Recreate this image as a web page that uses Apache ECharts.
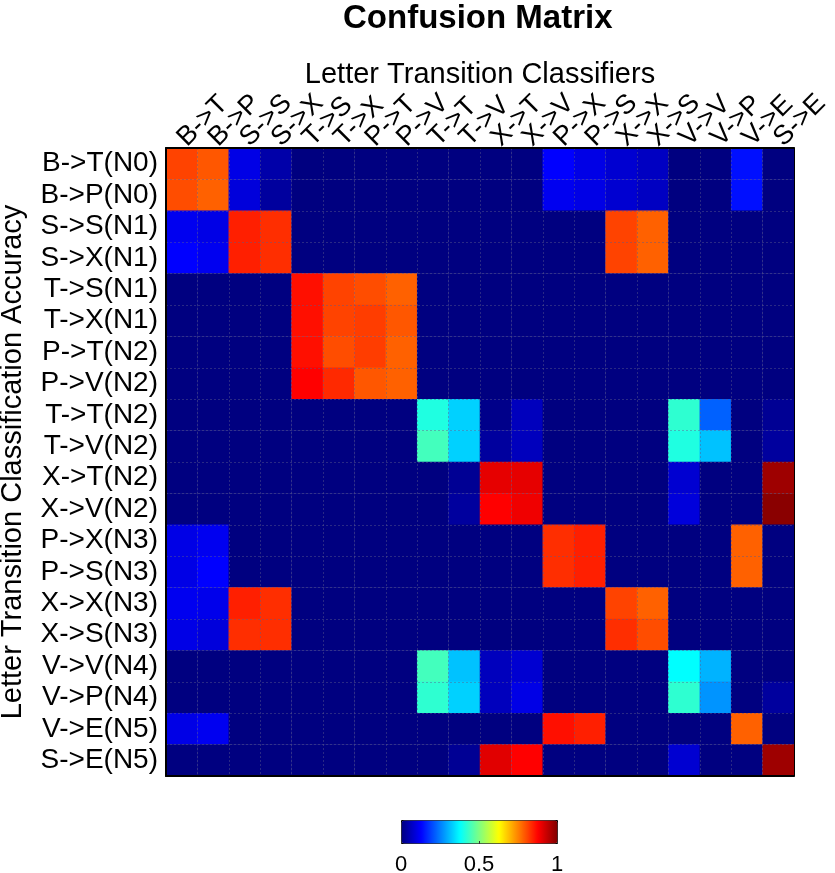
<!DOCTYPE html>
<html>
<head>
<meta charset="utf-8">
<script src="https://cdn.jsdelivr.net/npm/echarts@6/dist/echarts.min.js"></script>
<style>
  html, body { margin: 0; padding: 0; background: #fff; }
  #main { width: 835px; height: 873px; }
</style>
</head>
<body>
<div id="main"></div>
<script>
// classifiers (columns) and targets (rows)
var classifiers = ['B->T', 'B->P', 'S->S', 'S->X', 'T->S', 'T->X', 'P->T', 'P->V', 'T->T', 'T->V',
  'X->T', 'X->V', 'P->X', 'P->S', 'X->X', 'X->S', 'V->V', 'V->P', 'V->E', 'S->E'];
var targets = ['B->T(N0)', 'B->P(N0)', 'S->S(N1)', 'S->X(N1)', 'T->S(N1)', 'T->X(N1)', 'P->T(N2)', 'P->V(N2)',
  'T->T(N2)', 'T->V(N2)', 'X->T(N2)', 'X->V(N2)', 'P->X(N3)', 'P->S(N3)', 'X->X(N3)', 'X->S(N3)',
  'V->V(N4)', 'V->P(N4)', 'V->E(N5)', 'S->E(N5)'];

// one row per target, one value per classifier
var accuracy = [
  [0.81, 0.79, 0.10, 0.04, 0, 0, 0, 0, 0, 0, 0, 0, 0.125, 0.10, 0.08, 0.065, 0, 0, 0.14, 0],
  [0.80, 0.78, 0.09, 0.03, 0, 0, 0, 0, 0, 0, 0, 0, 0.11, 0.10, 0.08, 0.065, 0, 0, 0.14, 0],
  [0.11, 0.10, 0.845, 0.83, 0, 0, 0, 0, 0, 0, 0, 0, 0, 0, 0.81, 0.78, 0, 0, 0, 0],
  [0.125, 0.11, 0.845, 0.83, 0, 0, 0, 0, 0, 0, 0, 0, 0, 0, 0.81, 0.78, 0, 0, 0, 0],
  [0, 0, 0, 0, 0.86, 0.81, 0.80, 0.78, 0, 0, 0, 0, 0, 0, 0, 0, 0, 0, 0, 0],
  [0, 0, 0, 0, 0.86, 0.81, 0.815, 0.79, 0, 0, 0, 0, 0, 0, 0, 0, 0, 0, 0, 0],
  [0, 0, 0, 0, 0.86, 0.80, 0.815, 0.78, 0, 0, 0, 0, 0, 0, 0, 0, 0, 0, 0, 0],
  [0, 0, 0, 0, 0.875, 0.835, 0.79, 0.78, 0, 0, 0, 0, 0, 0, 0, 0, 0, 0, 0, 0],
  [0, 0, 0, 0, 0, 0, 0, 0, 0.405, 0.33, 0.01, 0.06, 0, 0, 0, 0, 0.42, 0.22, 0, 0.02],
  [0, 0, 0, 0, 0, 0, 0, 0, 0.44, 0.33, 0.03, 0.06, 0, 0, 0, 0, 0.405, 0.315, 0, 0.03],
  [0, 0, 0, 0, 0, 0, 0, 0, 0, 0.02, 0.90, 0.90, 0, 0, 0, 0, 0.08, 0, 0, 0.97],
  [0, 0, 0, 0, 0, 0, 0, 0, 0, 0.03, 0.875, 0.89, 0, 0, 0, 0, 0.09, 0, 0, 0.99],
  [0.10, 0.11, 0, 0, 0, 0, 0, 0, 0, 0, 0, 0, 0.83, 0.845, 0, 0, 0, 0, 0.78, 0],
  [0.10, 0.125, 0, 0, 0, 0, 0, 0, 0, 0, 0, 0, 0.83, 0.845, 0, 0, 0, 0, 0.78, 0],
  [0.11, 0.105, 0.845, 0.83, 0, 0, 0, 0, 0, 0, 0, 0, 0, 0, 0.81, 0.78, 0, 0, 0, 0],
  [0.10, 0.09, 0.83, 0.83, 0, 0, 0, 0, 0, 0, 0, 0, 0, 0, 0.83, 0.80, 0, 0, 0, 0],
  [0, 0, 0, 0, 0, 0, 0, 0, 0.44, 0.315, 0.06, 0.08, 0, 0, 0, 0, 0.375, 0.30, 0, 0],
  [0, 0, 0, 0, 0, 0, 0, 0, 0.42, 0.33, 0.06, 0.10, 0, 0, 0, 0, 0.42, 0.27, 0, 0.03],
  [0.10, 0.11, 0, 0, 0, 0, 0, 0, 0, 0, 0, 0, 0.86, 0.845, 0, 0, 0, 0, 0.78, 0],
  [0, 0, 0, 0, 0, 0, 0, 0, 0, 0.02, 0.905, 0.875, 0, 0, 0, 0, 0.08, 0, 0, 0.97]
];

// jet colormap, stops every 0.125
var jet = ['#000080', '#0000FF', '#0080FF', '#00FFFF', '#80FF80', '#FFFF00', '#FF8000', '#FF0000', '#800000'];

var cells = [];
for (var r = 0; r < accuracy.length; r++) {
  for (var c = 0; c < accuracy[r].length; c++) {
    cells.push([c, r, accuracy[r][c]]);
  }
}

var font = 'Liberation Sans';
var dom = document.getElementById('main');
var myChart = echarts.init(dom, null, { renderer: 'canvas' });

var gridLine = { show: true, lineStyle: { color: 'rgba(90,90,140,0.45)', type: [2, 2], width: 1 } };

var option = {
  animation: false,
  textStyle: { fontFamily: font, color: '#000' },
  title: {
    text: 'Confusion Matrix',
    left: 338,
    top: -3,
    textStyle: { fontFamily: font, fontSize: 33, fontWeight: 'bold', color: '#000' }
  },
  grid: [
    { left: 166, top: 148, width: 628, height: 628, outerBoundsMode: 'none' },
    { left: 401, top: 843, width: 156, height: 1, outerBoundsMode: 'none' }
  ],
  xAxis: [
    {
      type: 'category', data: classifiers, position: 'top', z: 3,
      name: 'Letter Transition Classifiers', nameLocation: 'middle', nameGap: 59, nameMoveOverlap: false,
      nameTextStyle: { fontFamily: font, fontSize: 29, color: '#000' },
      axisLine: { show: true, lineStyle: { color: '#000', width: 2 } },
      axisTick: { show: false },
      axisLabel: { rotate: -45, fontSize: 27, margin: 6, color: '#000', fontFamily: font, interval: 0 },
      splitLine: gridLine
    },
    {
      type: 'category', data: classifiers, position: 'bottom', z: 3,
      axisLine: { show: true, lineStyle: { color: '#000', width: 2 } },
      axisTick: { show: false }, axisLabel: { show: false }
    },
    {
      type: 'value', gridIndex: 1, min: 0, max: 1, interval: 0.5, z: 5,
      axisLine: { show: false }, splitLine: { show: false },
      axisTick: { show: true, inside: true, length: 3, lineStyle: { color: '#333' } },
      axisLabel: { fontSize: 22, margin: 10, color: '#000', fontFamily: font }
    }
  ],
  yAxis: [
    {
      type: 'category', data: targets, inverse: true, z: 3,
      name: 'Letter Transition Classification Accuracy', nameLocation: 'middle', nameGap: 139, nameRotate: 90,
      nameMoveOverlap: false,
      nameTextStyle: { fontFamily: font, fontSize: 29, color: '#000' },
      axisLine: { show: true, lineStyle: { color: '#000', width: 2 } },
      axisTick: { show: false },
      axisLabel: { fontSize: 28, margin: 8, color: '#000', fontFamily: font, interval: 0 },
      splitLine: gridLine
    },
    {
      type: 'category', data: targets, inverse: true, position: 'right', z: 3,
      axisLine: { show: true, lineStyle: { color: '#000', width: 1 } },
      axisTick: { show: false }, axisLabel: { show: false }
    },
    {
      type: 'value', gridIndex: 1, show: false
    }
  ],
  visualMap: {
    type: 'continuous',
    seriesIndex: 0,
    min: 0,
    max: 1,
    calculable: false,
    orient: 'horizontal',
    left: 401,
    top: 820,
    itemWidth: 23,
    itemHeight: 156,
    padding: 0,
    borderColor: '#000',
    borderWidth: 1,
    text: null,
    inRange: { color: jet }
  },
  series: [
    {
      type: 'heatmap',
      xAxisIndex: 0,
      yAxisIndex: 0,
      data: cells,
      itemStyle: { borderWidth: 0 },
      emphasis: { disabled: true }
    }
  ]
};

if (option && typeof option === 'object') {
  myChart.setOption(option);
}

window.addEventListener('resize', myChart.resize);
</script>
</body>
</html>
